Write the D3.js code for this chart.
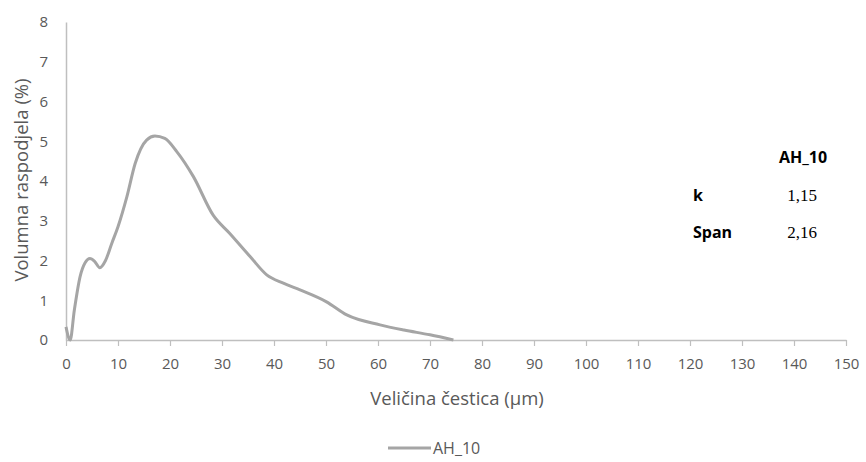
<!DOCTYPE html>
<html><head><meta charset="utf-8">
<script src="https://cdn.jsdelivr.net/npm/d3@7"></script>
<style>body{margin:0;background:#fff}</style>
</head><body>
<svg id="c" width="866" height="462"></svg>
<script>
const sizes  = [0, 0.8, 1.6, 2.7, 3.7, 4.6, 5.5, 6.5, 7.6, 8.8, 10, 11.7, 13.3, 15.5, 17.1, 19, 21.3, 24.5, 28.3, 31.5, 35.4, 38.6, 41.8, 45, 50.1, 54, 60.4, 65, 70, 74.5];
const values = [0.33, 0, 0.75, 1.59, 1.95, 2.05, 1.98, 1.82, 2.0, 2.43, 2.85, 3.6, 4.44, 5.03, 5.13, 5.07, 4.74, 4.11, 3.14, 2.68, 2.1, 1.64, 1.43, 1.26, 0.96, 0.63, 0.38, 0.25, 0.13, 0];
const xTicks = d3.range(0, 151, 10);
const yTicks = d3.range(0, 9, 1);
const seriesName = "AH_10";
const tableRows = ["k", "Span"];
const tableVals = ["1,15", "2,16"];

const svg = d3.select("#c");
const x = d3.scaleLinear().domain([0, 150]).range([66, 846]);
const y = d3.scaleLinear().domain([0, 8]).range([340, 22]);
const font = "'Open Sans', sans-serif";
const txt = "#595959";
const axisCol = "#bfbfbf";

// y axis
const ya = svg.append("g").attr("transform", `translate(${x(0)},0)`)
  .call(d3.axisLeft(y).tickValues(yTicks).tickSize(0).tickPadding(18).tickFormat(d3.format("d")));
ya.select(".domain").attr("stroke", axisCol).attr("stroke-width", 1.5);
ya.selectAll("text").attr("font-family", font).attr("font-size", 15).attr("fill", txt);

// x axis
const xa = svg.append("g").attr("transform", `translate(0,${y(0)})`)
  .call(d3.axisBottom(x).tickValues(xTicks).tickSize(6).tickSizeOuter(0).tickPadding(12).tickFormat(d3.format("d")));
xa.select(".domain").attr("stroke", axisCol).attr("stroke-width", 1.5);
xa.selectAll(".tick line").attr("stroke", axisCol).attr("stroke-width", 1.2);
xa.selectAll("text").attr("font-family", font).attr("font-size", 15).attr("fill", txt);

// curve
const data = sizes.map((s, i) => [s, values[i]]);
svg.append("path").datum(data)
  .attr("fill", "none").attr("stroke", "#a5a5a5").attr("stroke-width", 3)
  .attr("stroke-linejoin", "round")
  .attr("d", d3.line().x(d => x(d[0])).y(d => y(d[1])).curve(d3.curveMonotoneX));

// axis titles
svg.append("text").attr("x", 457).attr("y", 405).attr("text-anchor", "middle")
  .attr("font-family", font).attr("font-size", 18.5).attr("fill", txt).text("Veličina čestica (µm)");
svg.append("text").attr("transform", "translate(28,180) rotate(-90)").attr("text-anchor", "middle")
  .attr("font-family", font).attr("font-size", 18.5).attr("fill", txt).text("Volumna raspodjela (%)");

// table
svg.append("text").attr("x", 803).attr("y", 163).attr("text-anchor", "middle")
  .attr("font-family", font).attr("font-size", 16).attr("font-weight", "bold").attr("fill", "#000").text(seriesName);
tableRows.forEach((r, i) => {
  svg.append("text").attr("x", 693).attr("y", 201 + i * 37)
    .attr("font-family", font).attr("font-size", 16).attr("font-weight", "bold").attr("fill", "#000").text(r);
  svg.append("text").attr("x", 802).attr("y", 201 + i * 37).attr("text-anchor", "middle")
    .attr("font-family", "'Liberation Serif', serif").attr("font-size", 17).attr("fill", "#000").text(tableVals[i]);
});

// legend
svg.append("line").attr("x1", 388).attr("x2", 431).attr("y1", 448).attr("y2", 448)
  .attr("stroke", "#a5a5a5").attr("stroke-width", 3);
svg.append("text").attr("x", 433).attr("y", 454)
  .attr("font-family", font).attr("font-size", 16).attr("fill", txt).text(seriesName);
</script>
</body></html>
